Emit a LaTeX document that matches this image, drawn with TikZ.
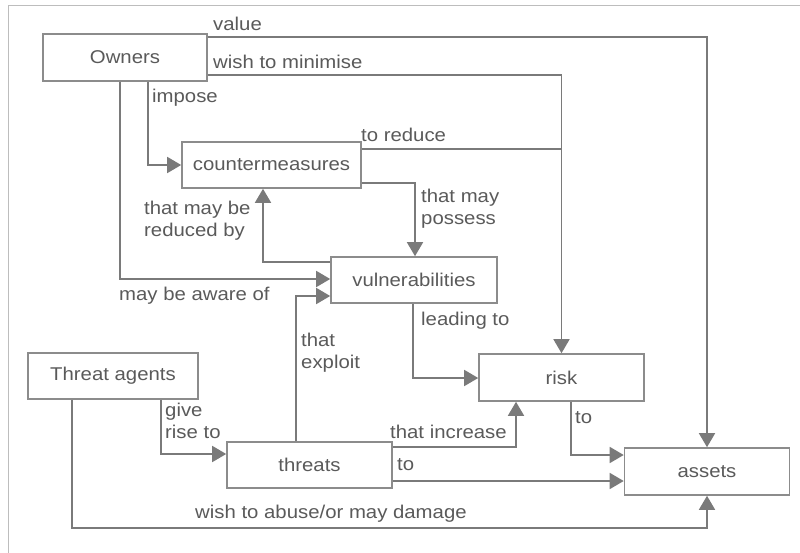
\documentclass[tikz,border=0pt]{standalone}
\usepackage{fontspec}
\setmainfont{Liberation Sans}[FakeStretch=1.1]
\usetikzlibrary{arrows.meta}
\definecolor{linec}{HTML}{7A7A7A}
\definecolor{boxc}{HTML}{8C8C8C}
\definecolor{textc}{HTML}{5A5A5A}
\definecolor{framec}{HTML}{BDBDBD}
\begin{document}
\begin{tikzpicture}[x=1pt,y=-1pt,
  every node/.style={font=\fontsize{18.5}{22}\selectfont, text=textc},
  box/.style={draw=boxc, line width=1.6pt, rectangle, inner sep=0pt},
  conn/.style={draw=linec, line width=1.6pt, -{Triangle[length=14pt,width=16pt]}},
  plain/.style={draw=linec, line width=1.6pt},
  lbl/.style={anchor=west, inner sep=0pt, align=left}]
\useasboundingbox (0,0) rectangle (800,553);
\fill[white] (0,0) rectangle (800,553);
\draw[framec, line width=1pt] (8,553) -- (8,6) -- (800,6);

\node[box, minimum width=164pt, minimum height=47pt] (owners) at (125,57.5) {Owners};
\node[box, minimum width=179pt, minimum height=46pt] (counter) at (271.5,165) {countermeasures};
\node[box, minimum width=166pt, minimum height=46pt] (vuln) at (414,280) {vulnerabilities};
\node[box, minimum width=170pt, minimum height=46pt] (agents) at (113,376) {Threat agents};
\node[box, minimum width=165pt, minimum height=46pt] (threats) at (309.5,465) {threats};
\node[box, minimum width=165pt, minimum height=47pt] (risk) at (561.5,377.5) {risk};
\node[box, minimum width=165pt, minimum height=47pt] (assets) at (707,471.5) {assets};

\coordinate (reduceEnd) at (562,149);
\coordinate (abuseCorner) at (assets.south |- 0,528);

% owners
\draw[conn] (owners.east |- 0,37) -| (assets.north);
\draw[conn] (owners.east |- 0,75) -| (risk.north);
\draw[plain] (counter.east |- 0,149) -- (reduceEnd);
\draw[conn] (owners.south -| 148,0) |- (counter.west);
\draw[conn] (owners.south -| 120,0) |- (vuln.west |- 0,279);
% counter / vuln
\draw[conn] (vuln.west |- 0,262) -| (counter.south -| 263,0);
\draw[conn] (counter.east |- 0,183) -| (vuln.north -| 415,0);
\draw[conn] (vuln.south -| 413,0) |- (risk.west |- 0,378);
% threats
\draw[conn] (threats.north -| 296,0) |- (vuln.west |- 0,296);
\draw[conn] (agents.south -| 161,0) |- (threats.west |- 0,454);
\draw[conn] (threats.east |- 0,447) -| (risk.south -| 516,0);
\draw[conn] (threats.east |- 0,481) -- (assets.west |- 0,481);
\draw[conn] (risk.south -| 571,0) |- (assets.west |- 0,455);
\draw[conn] (agents.south -| 72,0) |- (abuseCorner) -- (assets.south);

% labels
\node[lbl] (l1) at (213,24) {value};
\node[lbl] (l2) at (213,62) {wish to minimise};
\node[lbl] (l3) at (152,98) {impose};
\node[lbl] (l4) at (361,135) {to reduce};
\node[lbl] (l5) at (144,221) {that may be\\reduced by};
\node[lbl] (l6) at (421,209) {that may\\possess};
\node[lbl] (l7) at (119,296) {may be aware of};
\node[lbl] (l8) at (421,321) {leading to};
\node[lbl] (l9) at (301,353) {that\\exploit};
\node[lbl] (l10) at (165,421) {give\\rise to};
\node[lbl] (l11) at (390,432) {that increase};
\node[lbl] (l12) at (397,465) {to};
\node[lbl] (l13) at (575,418) {to};
\node[lbl] (l14) at (195,514) {wish to abuse/or may damage};
\end{tikzpicture}
\end{document}
